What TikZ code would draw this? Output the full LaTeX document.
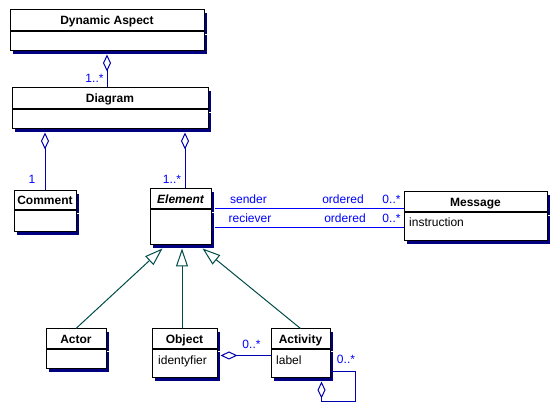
\documentclass[tikz,border=0pt]{standalone}
\usepackage{fontspec}
\setmainfont{Liberation Sans}
\usetikzlibrary{arrows.meta,positioning,shadows,calc}
\definecolor{shadowblue}{RGB}{0,0,128}
\definecolor{umlblue}{RGB}{0,0,255}
\definecolor{aggblue}{RGB}{0,0,176}
\definecolor{genteal}{RGB}{0,76,76}

\begin{document}
\begin{tikzpicture}[x=1pt, y=-1pt,
    umlshadow/.style={drop shadow={shadow xshift=3pt, shadow yshift=-3pt, fill=shadowblue, opacity=1}},
    cls/.style={draw, fill=white, line width=1pt, inner sep=0pt, umlshadow, text height=8.6pt, text depth=0pt, font=\fontsize{12}{14}\selectfont\bfseries},
    body/.style={draw, fill=white, line width=1pt, inner sep=0pt, umlshadow},
    attr/.style={anchor=base west, inner sep=0pt, font=\fontsize{12}{14}\selectfont},
    lbl/.style={anchor=base, inner sep=0pt, text=umlblue, font=\fontsize{12}{14}\selectfont},
    agg/.style={draw=aggblue, line width=1pt, {Diamond[open, length=17pt, width=8pt]}-, shorten <=3pt},
    assoc/.style={draw=umlblue, line width=1pt, shorten <=3pt},
    gen/.style={draw=genteal, line width=1pt, -{Triangle[open, fill=white, length=18pt, width=12pt]}}]
    \path[fill=white, use as bounding box] (0,0) rectangle (560,411);

    % classes
    \node[cls, minimum width=194pt, minimum height=21pt] (dyn) at (107,20.5) {Dynamic Aspect};
    \node[body, minimum width=194pt, minimum height=19pt, below=0pt of dyn] (dynb) {};
    \node[cls, minimum width=196pt, minimum height=21pt] (diag) at (110,98.5) {Diagram};
    \node[body, minimum width=196pt, minimum height=19pt, below=0pt of diag] (diagb) {};
    \node[cls, minimum width=62pt, minimum height=19pt] (com) at (45,200.5) {Comment};
    \node[body, minimum width=62pt, minimum height=21pt, below=0pt of com] (comb) {};
    \node[cls, minimum width=61pt, minimum height=20pt, font=\fontsize{12}{14}\selectfont\bfseries\itshape] (elem) at (180.5,199) {Element};
    \node[body, minimum width=61pt, minimum height=35pt, below=0pt of elem] (elemb) {};
    \node[cls, minimum width=143pt, minimum height=20pt] (msg) at (475.5,202) {Message};
    \node[body, minimum width=143pt, minimum height=28pt, below=0pt of msg] (msgb) {};
    \node[cls, minimum width=60pt, minimum height=19.5pt] (actor) at (76,338.75) {Actor};
    \node[body, minimum width=60pt, minimum height=19.5pt, below=0pt of actor] (actorb) {};
    \node[cls, minimum width=65pt, minimum height=19.5pt] (obj) at (184.5,338.75) {Object};
    \node[body, minimum width=65pt, minimum height=28.5pt, below=0pt of obj] (objb) {};
    \node[cls, minimum width=59pt, minimum height=19.5pt] (act) at (300.5,338.75) {Activity};
    \node[body, minimum width=59pt, minimum height=28.5pt, below=0pt of act] (actb) {};

    % attributes
    \node[attr] (instr) at (409,227) {instruction};
    \node[attr] (ident) at (158,365) {identyfier};
    \node[attr] (label) at (276,365) {label};

    % aggregations
    \draw[agg] (dynb.south) -- (dynb.south |- diag.north);
    \draw[agg] (diagb.south -| com.north) -- (com.north);
    \coordinate (e1) at ($(elem.north)+(4.5,0)$);
    \draw[agg] (diagb.south -| e1) -- (e1);
    \coordinate (o1) at ($(objb.north east)+(0,6.5)$);
    \draw[agg] (o1) -- (o1 -| actb.west);
    \draw[agg] ($(actb.south east)+(-9,0)$) -- ++(0,23) -- ++(34,0) |- ($(actb.south east)+(0,-7)$);

    % associations
    \coordinate (s1) at ($(elem.south east)+(0,-1)$);
    \draw[assoc] (s1) -- (s1 -| msg.west);
    \draw[assoc] (elemb.east) -- (elemb.east -| msgb.west);

    % generalizations
    \coordinate (g2) at ($(elemb.south)+(1.5,3)$);
    \draw[gen] (actor.north) -- ($(elemb.south west)+(13,3)$);
    \draw[gen] (obj.north -| g2) -- (g2);
    \draw[gen] (act.north) -- ($(elemb.south east)+(-9,3)$);

    % labels
    \node[lbl] (m1) at (94.5,83) {1..*};
    \node[lbl] (m2) at (32,184) {1};
    \node[lbl] (m3) at (172,184) {1..*};
    \node[lbl] (snd) at (248.5,204) {sender};
    \node[lbl] (ord1) at (343,204) {ordered};
    \node[lbl] (m4) at (391.5,204) {0..*};
    \node[lbl] (rcv) at (250,222.5) {reciever};
    \node[lbl] (ord2) at (345,222.5) {ordered};
    \node[lbl] (m5) at (391.5,222.5) {0..*};
    \node[lbl] (m6) at (251.5,349) {0..*};
    \node[lbl] (m7) at (346,364) {0..*};
\end{tikzpicture}
\end{document}
